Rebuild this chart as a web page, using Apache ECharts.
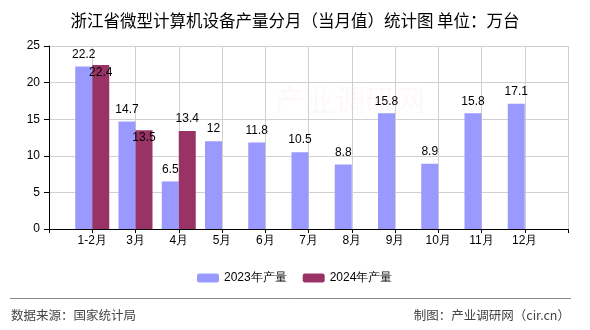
<!DOCTYPE html>
<html>
<head>
<meta charset="utf-8">
<script src="https://cdn.jsdelivr.net/npm/echarts@6/dist/echarts.min.js"></script>
<style>html,body{margin:0;padding:0;background:#fff}#c{width:590px;height:330px}</style>
</head>
<body>
<div id="c"></div>
<script>
var categories = ['', '1-2月', '3月', '4月', '5月', '6月', '7月', '8月', '9月', '10月', '11月', '12月', ''];
var values2023 = [null, 22.2, 14.7, 6.5, 12, 11.8, 10.5, 8.8, 15.8, 8.9, 15.8, 17.1, null];
var values2024 = [null, 22.4, 13.5, 13.4, null, null, null, null, null, null, null, null, null];
var yTicks = [0, 5, 10, 15, 20, 25];
var seriesNames = ['2023年产量', '2024年产量'];
var titleText = '浙江省微型计算机设备产量分月（当月值）统计图 单位：万台';
var sourceText = '数据来源：国家统计局';
var creditText = '制图：产业调研网（cir.cn）';
var insideLabelIdx = [1, 2];

var labelFont = 'Liberation Sans, Arial, sans-serif';
var chart = echarts.init(document.getElementById('c'));
var d2024 = values2024.map(function (v, i) {
  if (insideLabelIdx.indexOf(i) >= 0) {
    return { value: v, label: { position: 'insideTop', distance: 2 } };
  }
  return v;
});
chart.setOption({
  animation: false,
  title: {
    text: titleText, left: 'center', top: 7,
    textStyle: { fontSize: 16.5, fontWeight: 'normal', color: '#000', fontFamily: 'Noto Sans CJK SC, sans-serif' }
  },
  grid: { left: 49, right: 22, top: 46, bottom: 101 },
  legend: {
    data: seriesNames, left: 192, top: 267, itemWidth: 22, itemHeight: 9, itemGap: 16,
    textStyle: { fontSize: 12, color: '#000', fontFamily: labelFont }
  },
  xAxis: {
    type: 'category', data: categories, boundaryGap: false,
    axisLine: { lineStyle: { color: '#000' } },
    axisTick: { show: true, length: 4, interval: 0, lineStyle: { color: '#000' } },
    axisLabel: { interval: 0, margin: 6, fontSize: 12, color: '#000', fontFamily: labelFont },
    splitLine: { show: true, interval: 0, lineStyle: { color: '#d0d0d0' } }
  },
  yAxis: {
    type: 'value', min: yTicks[0], max: yTicks[yTicks.length - 1], interval: 5,
    axisLine: { show: true, lineStyle: { color: '#000' } },
    axisTick: { show: true, length: 5, lineStyle: { color: '#000' } },
    axisLabel: { margin: 9, fontSize: 12, color: '#000', fontFamily: labelFont },
    splitLine: { show: true, lineStyle: { color: '#d0d0d0' } }
  },
  series: [
    {
      name: seriesNames[0], type: 'bar', data: values2023, barWidth: 17, barGap: '0%',
      itemStyle: { color: '#9999ff' },
      label: { show: true, position: 'top', distance: 6, fontSize: 12, color: '#000', fontFamily: labelFont }
    },
    {
      name: seriesNames[1], type: 'bar', data: d2024, barWidth: 17, barGap: '0%',
      itemStyle: { color: '#993366' },
      label: { show: true, position: 'top', distance: 6, fontSize: 12, color: '#000', fontFamily: labelFont }
    }
  ],
  graphic: [
    { type: 'text', left: 275, top: 85, silent: true, z: -1,
      style: { text: '产业调研网', fontSize: 30, fill: 'rgba(230,120,120,0.05)', fontFamily: 'Noto Sans CJK SC, sans-serif' } },
    { type: 'line', shape: { x1: 10, y1: 298.5, x2: 571, y2: 298.5 }, style: { stroke: '#888', lineWidth: 1 } },
    { type: 'text', left: 11, top: 309,
      style: { text: sourceText, fontSize: 12.5, fill: '#444', fontFamily: 'Noto Sans CJK SC, sans-serif' } },
    { type: 'text', right: 20, top: 309,
      style: { text: creditText, fontSize: 12.5, fill: '#444', fontFamily: 'Noto Sans CJK SC, sans-serif' } }
  ]
});
</script>
</body>
</html>
